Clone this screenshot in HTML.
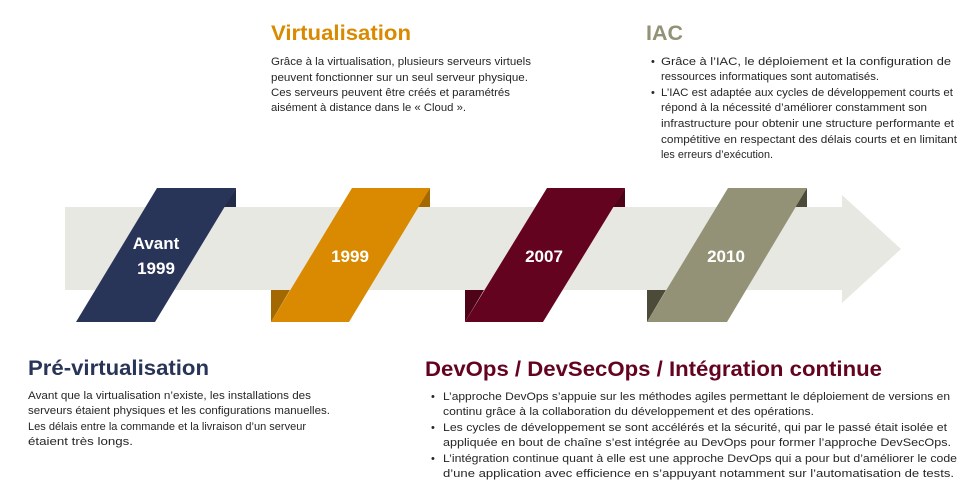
<!DOCTYPE html>
<html><head><meta charset="utf-8"><style>
html,body{margin:0;padding:0;background:#fff;}
svg{display:block;}
text{font-family:"Liberation Sans",sans-serif;}
.b{font-size:11px;fill:#262626;}
.h{font-weight:bold;font-size:21px;}
.l{font-weight:bold;font-size:17px;fill:#fff;}
</style></head><body>
<svg width="972" height="496" viewBox="0 0 972 496" xmlns="http://www.w3.org/2000/svg">
<polygon points="65,207 842,207 842,195 901,249 842,303 842,290 65,290" fill="#e8e8e2"/>
<polygon points="236,188 236,207 224,207" fill="#222b47"/>
<polygon points="157,188 236,188 155,322 76,322" fill="#293558"/>
<polygon points="430,188 430,207 418,207" fill="#a36800"/>
<polygon points="271,290 290,290 271,322" fill="#a36800"/>
<polygon points="352,188 430,188 349,322 271,322" fill="#d98a00"/>
<polygon points="625,188 625,207 613,207" fill="#4e0319"/>
<polygon points="465,290 484,290 465,322" fill="#4e0319"/>
<polygon points="547,188 625,188 543,322 465,322" fill="#640320"/>
<polygon points="807,188 807,207 795,207" fill="#4c4b3a"/>
<polygon points="647,290 666,290 647,322" fill="#4c4b3a"/>
<polygon points="728,188 807,188 727,322 647,322" fill="#939276"/>
<text class="l" x="156" y="249" text-anchor="middle">Avant</text>
<text class="l" x="156" y="274" text-anchor="middle">1999</text>
<text class="l" x="350" y="262" text-anchor="middle">1999</text>
<text class="l" x="544" y="262" text-anchor="middle">2007</text>
<text class="l" x="726" y="262" text-anchor="middle">2010</text>

<text class="h" x="271" y="40" fill="#d98a00" textLength="140" lengthAdjust="spacingAndGlyphs">Virtualisation</text>
<text class="b" x="271" y="65" textLength="260" lengthAdjust="spacingAndGlyphs">Grâce à la virtualisation, plusieurs serveurs virtuels</text>
<text class="b" x="271" y="81" textLength="257" lengthAdjust="spacingAndGlyphs">peuvent fonctionner sur un seul serveur physique.</text>
<text class="b" x="271" y="96" textLength="239" lengthAdjust="spacingAndGlyphs">Ces serveurs peuvent être créés et paramétrés</text>
<text class="b" x="271" y="111" textLength="195" lengthAdjust="spacingAndGlyphs">aisément à distance dans le « Cloud ».</text>

<text class="h" x="646" y="40" fill="#939276" textLength="37" lengthAdjust="spacingAndGlyphs">IAC</text>
<text class="b" x="651" y="65">•</text>
<text class="b" x="661" y="65" textLength="290" lengthAdjust="spacingAndGlyphs">Grâce à l’IAC, le déploiement et la configuration de</text>
<text class="b" x="661" y="80" textLength="218" lengthAdjust="spacingAndGlyphs">ressources informatiques sont automatisés.</text>
<text class="b" x="651" y="96">•</text>
<text class="b" x="661" y="96" textLength="292" lengthAdjust="spacingAndGlyphs">L’IAC est adaptée aux cycles de développement courts et</text>
<text class="b" x="661" y="111" textLength="266" lengthAdjust="spacingAndGlyphs">répond à la nécessité d’améliorer constamment son</text>
<text class="b" x="661" y="127" textLength="293" lengthAdjust="spacingAndGlyphs">infrastructure pour obtenir une structure performante et</text>
<text class="b" x="661" y="143" textLength="296" lengthAdjust="spacingAndGlyphs">compétitive en respectant des délais courts et en limitant</text>
<text class="b" x="661" y="158" textLength="112" lengthAdjust="spacingAndGlyphs">les erreurs d’exécution.</text>

<text class="h" x="28" y="375" fill="#293558" textLength="181" lengthAdjust="spacingAndGlyphs">Pré-virtualisation</text>
<text class="b" x="28" y="399" textLength="283" lengthAdjust="spacingAndGlyphs">Avant que la virtualisation n’existe, les installations des</text>
<text class="b" x="28" y="414" textLength="302" lengthAdjust="spacingAndGlyphs">serveurs étaient physiques et les configurations manuelles.</text>
<text class="b" x="28" y="430" textLength="278" lengthAdjust="spacingAndGlyphs">Les délais entre la commande et la livraison d’un serveur</text>
<text class="b" x="28" y="445" textLength="105" lengthAdjust="spacingAndGlyphs">étaient très longs.</text>

<text class="h" x="425" y="376" fill="#640320" textLength="457" lengthAdjust="spacingAndGlyphs">DevOps / DevSecOps / Intégration continue</text>
<text class="b" x="431" y="400">•</text>
<text class="b" x="443" y="400" textLength="507" lengthAdjust="spacingAndGlyphs">L’approche DevOps s’appuie sur les méthodes agiles permettant le déploiement de versions en</text>
<text class="b" x="443" y="415" textLength="371" lengthAdjust="spacingAndGlyphs">continu grâce à la collaboration du développement et des opérations.</text>
<text class="b" x="431" y="431">•</text>
<text class="b" x="443" y="431" textLength="504" lengthAdjust="spacingAndGlyphs">Les cycles de développement se sont accélérés et la sécurité, qui par le passé était isolée et</text>
<text class="b" x="443" y="446" textLength="508" lengthAdjust="spacingAndGlyphs">appliquée en bout de chaîne s’est intégrée au DevOps pour former l’approche DevSecOps.</text>
<text class="b" x="431" y="462">•</text>
<text class="b" x="443" y="462" textLength="514" lengthAdjust="spacingAndGlyphs">L’intégration continue quant à elle est une approche DevOps qui a pour but d’améliorer le code</text>
<text class="b" x="443" y="477" textLength="511" lengthAdjust="spacingAndGlyphs">d’une application avec efficience en s’appuyant notamment sur l’automatisation de tests.</text>
</svg>
</body></html>
